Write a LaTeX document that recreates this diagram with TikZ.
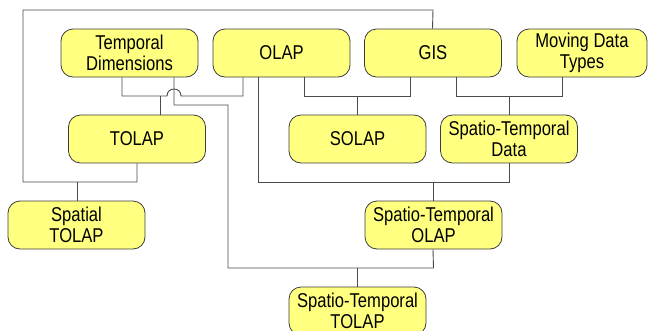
\documentclass[tikz,border=0pt]{standalone}
\usepackage{fontspec}
\setmainfont[FakeStretch=0.83]{Liberation Sans}
\definecolor{boxfill}{RGB}{255,255,128}
\definecolor{boxline}{RGB}{60,60,60}
\definecolor{linkc}{RGB}{75,75,75}
\begin{document}
\begin{tikzpicture}[x=1pt,y=-1pt,
  box/.style={draw=boxline, fill=boxfill, rounded corners=12pt,
    minimum width=137pt, minimum height=48pt, inner sep=0pt,
    align=center, line width=0.8pt,
    font=\fontsize{20}{21}\selectfont},
  link/.style={draw=linkc, line width=0.9pt}]
\useasboundingbox (0,0) rectangle (648,330);
\clip (0,0) rectangle (648,330);

% concept boxes
\node[box] (td)     at (129.5,53) {Temporal\\Dimensions};
\node[box] (olap)   at (281.5,53) {OLAP};
\node[box] (gis)    at (433,53)   {GIS};
\node[box, minimum width=130pt] (mdt) at (582,53) {Moving Data\\Types};
\node[box] (tolap)  at (137,139)  {TOLAP};
\node[box] (solap)  at (357.5,139) {SOLAP};
\node[box] (std)    at (509,139)  {Spatio-Temporal\\Data};
\node[box] (stol)   at (76.5,225) {Spatial\\TOLAP};
\node[box] (stolap) at (433.5,225) {Spatio-Temporal\\OLAP};
\node[box] (sttol)  at (357.5,311) {Spatio-Temporal\\TOLAP};

% junction points
\coordinate (jtop)   at (433,10);
\coordinate (jleft)  at (23,10);
\coordinate (jsp)    at (77,182);
\coordinate (jtd)    at (122,96);
\coordinate (jtol)   at (160,96);
\coordinate (jhopa)  at (167,96);
\coordinate (jhopb)  at (181,96);
\coordinate (jol)    at (243,96);
\coordinate (jst)    at (174,105);
\coordinate (jst2)   at (228,105);
\coordinate (jstb)   at (357,268);
\coordinate (jso)    at (357,96);
\coordinate (jsd)    at (509,96);
\coordinate (jstol)  at (433,182);

% GIS + TOLAP -> Spatial TOLAP
\draw[link] ([xshift=-0.5pt]gis.north) -- (jtop) -- (jleft) -- (jleft |- jsp)
  -- (tolap.south |- jsp) -- (tolap.south);
\draw[link] (jsp) -- (jsp |- stol.north);

% Temporal Dimensions + OLAP -> TOLAP (hopping over the vertical line)
\draw[link] (jtd |- td.south) -- (jtd) -- (jhopa)
  .. controls (167,86.7) and (181,86.7) .. (jhopb)
  -- (jol) -- (jol |- olap.south);
\draw[link] (jtol) -- (jtol |- tolap.north);

% Temporal Dimensions + Spatio-Temporal OLAP -> Spatio-Temporal TOLAP
\draw[link] (jst |- td.south) -- (jst) -- (jst2) -- (jst2 |- jstb)
  -- (stolap.south |- jstb) -- ([xshift=-0.5pt]stolap.south);
\draw[link] (jstb) -- (jstb |- sttol.north);

% OLAP + Spatio-Temporal Data -> Spatio-Temporal OLAP
\draw[link] ([xshift=-23.5pt]olap.south) -- ([xshift=-23.5pt]olap.south |- jstol)
  -- (std.south |- jstol) -- (std.south);
\draw[link] (jstol) -- (jstol |- stolap.north);

% OLAP + GIS -> SOLAP
\draw[link] ([xshift=22.5pt]olap.south) -- ([xshift=22.5pt]olap.south |- jso)
  -- ([xshift=-23pt]gis.south |- jso) -- ([xshift=-23pt]gis.south);
\draw[link] (jso) -- (jso |- solap.north);

% GIS + Moving Data Types -> Spatio-Temporal Data
\draw[link] ([xshift=23pt]gis.south) -- ([xshift=23pt]gis.south |- jsd)
  -- ([xshift=-20pt]mdt.south |- jsd) -- ([xshift=-20pt]mdt.south);
\draw[link] (jsd) -- (jsd |- std.north);
\end{tikzpicture}
\end{document}
